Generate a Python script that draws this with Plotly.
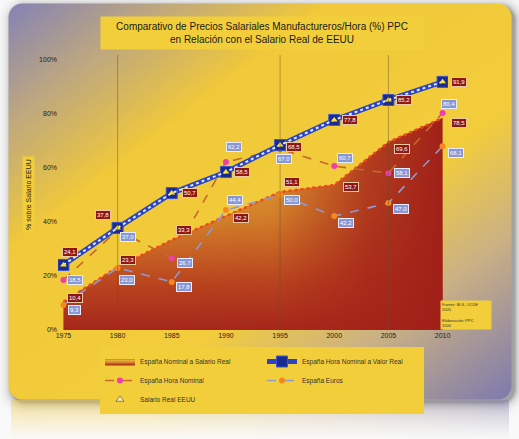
import base64
import struct
import zlib

import numpy as np
import plotly.graph_objects as go

# ---------------------------------------------------------------- data
years = ["1975", "1980", "1985", "1990", "1995", "2000", "2005", "2010"]

nominal_real = [10.4, 23.3, 33.3, 42.2, 51.1, 53.7, 69.6, 78.5]     # area
hora_valor_real = [24.1, 37.8, 50.7, 58.5, 68.5, 77.8, 85.2, 91.9]  # blue line
hora_nominal = [18.5, 37.0, 26.7, 62.2, 67.0, 60.7, 58.1, 80.4]     # pink markers
euros = [9.3, 23.0, 17.8, 44.4, 50.0, 42.2, 47.0, 68.1]             # orange markers

y_ticks = [0, 20, 40, 60, 80, 100]
y_tick_text = ["0%", "20%", "40%", "60%", "80%", "100%"]

names = [
    "España Nominal a Salario Real",
    "España Hora Nominal a Valor Real",
    "España Hora Nominal",
    "España Euros",
    "Salario Real EEUU",
]

title_text = ("Comparativo de Precios Salariales Manufactureros/Hora (%) PPC"
              "<br>en Relación con el Salario Real de EEUU")

# label placement (pixel shifts from each point: right, up)
area_label_shift = [(12, 4), (10, 7), (12, 10), (15, -2), (12, 10), (17, -2), (14, -7), (16, -5)]
blue_label_shift = [(7, 13), (-15, 13), (18, 0), (16, 0), (14, -2), (16, 0), (16, 0), (16, 0)]
pink_label_shift = [(12, 0), (10, -7), (13, -5), (8, 15), (4, -10), (11, 8), (14, 0), (6, 9)]
orange_label_shift = [(11, -5), (9, -12), (12, -5), (9, 10), (12, -5), (12, -7), (13, -6), (13, -7)]

# ---------------------------------------------------------------- canvas
W, H = 519, 439
L, R, T, B = 58, 71, 55, 109
PW, PH = W - L - R, H - T - B
FONT = "Liberation Sans"


def px_x(px):
    return (px - L) / PW


def px_y(py):
    return (H - B - py) / PH


def png_uri(rgb):
    """Encode an HxWx3 uint8 array as a PNG data URI."""
    h, w, _ = rgb.shape
    raw = b"".join(b"\x00" + rgb[i].tobytes() for i in range(h))

    def chunk(tag, data):
        c = struct.pack(">I", len(data)) + tag + data
        return c + struct.pack(">I", zlib.crc32(tag + data) & 0xFFFFFFFF)

    png = (b"\x89PNG\r\n\x1a\n"
           + chunk(b"IHDR", struct.pack(">IIBBBBB", w, h, 8, 2, 0, 0, 0))
           + chunk(b"IDAT", zlib.compress(raw, 9))
           + chunk(b"IEND", b""))
    return "data:image/png;base64," + base64.b64encode(png).decode()


def card_background():
    yy, xx = np.mgrid[0:H, 0:W].astype(float)
    # diagonal lavender -> yellow -> lavender wash
    t = (xx / W + yy / 400.0) / 2.0
    stops = [0.0, 0.16, 0.32, 0.62, 0.78, 1.0]
    cols = np.array([(128, 128, 186), (190, 168, 128), (241, 201, 58),
                     (243, 205, 60), (204, 178, 132), (122, 120, 176)], float)
    grad = np.stack([np.interp(t, stops, cols[:, c]) for c in range(3)], -1)

    def rr_dist(x, y, x0, y0, x1, y1, r):
        dx = np.maximum(np.maximum(x0 + r - x, x - (x1 - r)), 0)
        dy = np.maximum(np.maximum(y0 + r - y, y - (y1 - r)), 0)
        return np.sqrt(dx ** 2 + dy ** 2) - r

    x0, y0, x1, y1, r = 8, 3, 511, 399, 14
    d = rr_dist(xx, yy, x0, y0, x1, y1, r)
    ds = rr_dist(xx - 3, yy - 3, x0, y0, x1, y1, r)

    img = np.full((H, W, 3), 250.0)
    shadow = 0.35 * np.exp(-np.maximum(ds, 0) / 4.0)
    img = img * (1 - shadow[..., None])

    # faded reflection under the card
    refl = img.copy()
    for y in range(y1 + 1, H):
        src = min(2 * y1 - y, H - 1)
        a = 0.45 * (1 - (y - y1) / (H - y1))
        refl[y] = img[y] * (1 - a) + grad[src] * a
    inside_x = (xx > x0 + 2) & (xx < x1 - 2) & (yy > y1)
    img = np.where(inside_x[..., None], refl, img)

    alpha = np.clip(0.5 - d, 0, 1)[..., None]
    img = img * (1 - alpha) + grad * alpha
    return np.clip(img, 0, 255).astype(np.uint8)


fig = go.Figure()

# ---------------------------------------------------------------- area
fig.add_trace(go.Scatter(
    x=years, y=nominal_real, name=names[0], mode="lines",
    line=dict(color="#d2552a", width=0.5), fill="tozeroy",
    fillgradient=dict(type="vertical",
                      colorscale=[[0, "#a5271b"], [0.22, "#bb461f"],
                                  [0.55, "#d98e2c"], [1, "#ecc03e"]]),
    legendrank=1,
))
fig.add_trace(go.Scatter(
    x=years, y=nominal_real, mode="lines", showlegend=False, hoverinfo="skip",
    line=dict(width=0), fill="tozeroy",
    fillgradient=dict(type="horizontal",
                      colorscale=[[0, "rgba(165,35,25,0)"], [0.55, "rgba(165,35,25,0.12)"],
                                  [0.8, "rgba(165,35,25,0.8)"], [1, "rgba(160,32,24,1)"]]),
))
fig.add_trace(go.Scatter(
    x=years, y=nominal_real, mode="lines", showlegend=False, hoverinfo="skip",
    line=dict(color="#f2471c", width=2.5, dash="dot"),
))

# ---------------------------------------------------------------- euros
fig.add_trace(go.Scatter(
    x=years, y=euros, name=names[3], mode="lines+markers",
    line=dict(color="#8c9ad6", width=1.6, dash="dash"),
    marker=dict(color="#f5891f", size=6, symbol="circle"),
    legendrank=4,
))

# ---------------------------------------------------------------- hora nominal
fig.add_trace(go.Scatter(
    x=years, y=hora_nominal, name=names[2], mode="lines+markers",
    line=dict(color="#c8682a", width=1.6, dash="dash"),
    marker=dict(color="#ee3fae", size=6, symbol="circle"),
    legendrank=3,
))

# ---------------------------------------------------------------- valor real
fig.add_trace(go.Scatter(
    x=years, y=hora_valor_real, name=names[1], mode="lines+markers",
    line=dict(color="#2b45c2", width=5),
    marker=dict(color="#1b2a8e", size=11, symbol="square",
                line=dict(color="#3c55d0", width=1)),
    legendrank=2,
))
fig.add_trace(go.Scatter(
    x=years, y=hora_valor_real, mode="lines", showlegend=False, hoverinfo="skip",
    line=dict(color="#dfe6ff", width=2, dash="dot"),
))
fig.add_trace(go.Scatter(
    x=years, y=hora_valor_real, mode="markers", showlegend=False, hoverinfo="skip",
    marker=dict(color="#f6e23a", size=6, symbol="triangle-up"),
))

# legend entry for the reference wage
fig.add_trace(go.Scatter(
    x=[None], y=[None], name=names[4], mode="markers",
    marker=dict(color="#fff6c0", size=7, symbol="triangle-up",
                line=dict(color="#8a7a40", width=1)),
    legendrank=5,
))


# ---------------------------------------------------------------- value labels
def add_labels(values, shifts, bg, border):
    for i, (v, (dx, dy)) in enumerate(zip(values, shifts)):
        fig.add_annotation(
            x=i, y=v, text=f"{v:.1f}".replace(".", ","), showarrow=False,
            xshift=dx, yshift=dy, xref="x", yref="y",
            font=dict(family=FONT, size=6, color="white"),
            bgcolor=bg, bordercolor=border, borderwidth=1, borderpad=1,
        )


add_labels(nominal_real, area_label_shift, "#8e1712", "#e9c9a0")
add_labels(hora_valor_real, blue_label_shift, "#8e1712", "#e9c9a0")
add_labels(hora_nominal, pink_label_shift, "#8896d4", "#e8ecff")
add_labels(euros, orange_label_shift, "#8896d4", "#e8ecff")

# ---------------------------------------------------------------- frame texts
fig.add_annotation(
    xref="paper", yref="paper", x=px_x(262), y=px_y(33),
    xanchor="center", yanchor="middle",
    text=title_text, showarrow=False, align="center",
    width=320, height=30, bgcolor="#f2cf3a",
    font=dict(family=FONT, size=10, color="#1a1a1a"),
)
fig.add_annotation(
    xref="paper", yref="paper", x=px_x(29), y=px_y(195),
    xanchor="center", yanchor="middle",
    text="% sobre Salario EEUU", textangle=-90, showarrow=False,
    bgcolor="#f2cf3a", borderpad=2, font=dict(family=FONT, size=7, color="#1a1a1a"),
)
fig.add_annotation(
    xref="paper", yref="paper", x=px_x(466), y=px_y(315),
    xanchor="center", yanchor="middle",
    text="Fuente: BLS, OCDE<br>2005<br><br>Elaboración: PPC<br>2006",
    showarrow=False, align="left", width=48, bgcolor="#f2cf3a",
    font=dict(family=FONT, size=4, color="#333333"),
)

# vertical period dividers
for i in (1, 4, 6):
    fig.add_shape(type="line", xref="x", yref="paper", x0=i, x1=i, y0=0, y1=1,
                  line=dict(color="rgba(100,80,50,0.45)", width=1), layer="above")

fig.add_layout_image(
    source=png_uri(card_background()), xref="paper", yref="paper",
    x=-L / PW, y=1 + T / PH, sizex=W / PW, sizey=H / PH,
    sizing="stretch", layer="below", xanchor="left", yanchor="top",
)

fig.update_layout(
    width=W, height=H, margin=dict(l=L, r=R, t=T, b=B, pad=0),
    paper_bgcolor="white", plot_bgcolor="rgba(0,0,0,0)",
    font=dict(family=FONT, size=7, color="#222222"),
    xaxis=dict(type="category", range=[-0.1, 7.1], showgrid=False, zeroline=False,
               showline=False, ticks="", tickfont=dict(size=7, color="#222222")),
    yaxis=dict(range=[0, 101.85], tickvals=y_ticks, ticktext=y_tick_text,
               showgrid=False, zeroline=False, showline=False, ticks="",
               tickfont=dict(size=7, color="#222222")),
    legend=dict(orientation="h", x=px_x(100), y=px_y(347),
                xanchor="left", yanchor="top", bgcolor="#f2cf3a",
                entrywidth=117, entrywidthmode="pixels", traceorder="normal",
                font=dict(family=FONT, size=6.5, color="#333333"),
                itemwidth=30, tracegroupgap=0),
    showlegend=True,
)

fig.write_html("out.html")
